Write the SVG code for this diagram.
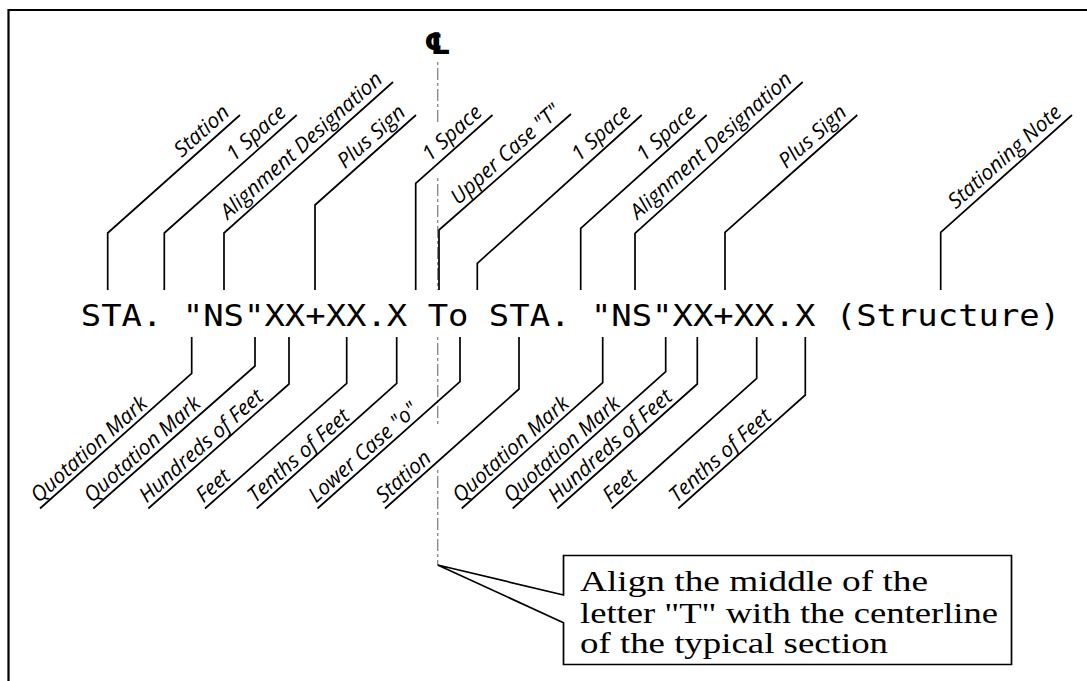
<svg xmlns="http://www.w3.org/2000/svg" width="1087" height="681" viewBox="0 0 1087 681">
  <style>
    .frame { fill: none; stroke: #000; stroke-width: 2.2; }
    .lead { fill: none; stroke: #000; stroke-width: 1.7; stroke-linejoin: miter; }
    .cl { fill: none; stroke: #8c8c8c; stroke-width: 1.4; stroke-dasharray: 3 3 12 3; }
    .main { font-family: "DejaVu Sans Mono", "Liberation Mono", monospace; font-size: 30px; fill: #000; }
    .lbl { font-family: "Open Sans", "Noto Sans", sans-serif; font-style: italic; font-size: 21px; fill: #000; }
    .note { font-family: "Liberation Serif", "DejaVu Serif", serif; font-size: 30px; fill: #000; }
    .clsym { font-family: "DejaVu Sans", sans-serif; font-weight: bold; font-size: 30px; fill: #000; }
  </style>

  <rect width="1087" height="681" fill="#fff"/>

  <!-- sheet border (left and top edges) -->
  <path class="frame" d="M8.5,681 V10 H1087"/>

  <!-- centerline of the typical section -->
  <g id="centerline">
    <text class="clsym" x="437.5" y="54" text-anchor="middle">℄</text>
    <path class="cl" d="M437.7,62 V122 M437.7,178 V290 M437.7,337 V425 M437.7,470 V565"/>
  </g>

  <!-- the stationing string -->
  <g id="station-string">
    <text class="main" transform="translate(80.8,326) scale(1.13,1)" xml:space="preserve">STA. "NS"XX+XX.X To STA. "NS"XX+XX.X (Structure)</text>
  </g>

  <!-- leader lines: vertical tick, then 41.7 degree run to the label -->
  <g id="connectors">
    <!-- upper leaders -->
    <path class="lead" d="M107.7,290 V233 L240,115"/>
    <path class="lead" d="M164.3,290 V233 L296.7,115"/>
    <path class="lead" d="M224,290 V233 L393,82"/>
    <path class="lead" d="M315,290 V205 L416,115"/>
    <path class="lead" d="M415.7,290 V183.3 L492.5,115"/>
    <path class="lead" d="M439,290 V230 L571,114"/>
    <path class="lead" d="M477.3,290 V263.3 L641.7,115"/>
    <path class="lead" d="M580.7,290 V228.3 L706.7,115"/>
    <path class="lead" d="M635,290 V233.3 L802.7,82"/>
    <path class="lead" d="M725,290 V232.3 L857.3,115"/>
    <path class="lead" d="M940.7,290 V232.3 L1072,115"/>
    <!-- lower leaders -->
    <path class="lead" d="M191.7,337 V373.3 L40,508.5"/>
    <path class="lead" d="M255,337 V366 L93.3,508.5"/>
    <path class="lead" d="M289,337 V384 L148.3,508.5"/>
    <path class="lead" d="M346.7,337 V383.3 L205,508.5"/>
    <path class="lead" d="M396.7,337 V383.3 L256.7,508.5"/>
    <path class="lead" d="M460,337 V381.7 L317.5,508.5"/>
    <path class="lead" d="M519,337 V389 L385,508.5"/>
    <path class="lead" d="M602.7,337 V382.7 L461.7,508.5"/>
    <path class="lead" d="M665.7,337 V371.7 L512.7,508.5"/>
    <path class="lead" d="M697.3,337 V384 L557.3,508.5"/>
    <path class="lead" d="M756.7,337 V378.3 L611.7,508.5"/>
    <path class="lead" d="M805.3,337 V395 L678.3,508.5"/>
  </g>

  <!-- upper labels (anchored at the upper end of each run) -->
  <g id="lbl-station-1"><text class="lbl" text-anchor="end" transform="translate(230.7,114.3) rotate(-41.7)">Station</text></g>
  <g id="lbl-space-1"><text class="lbl" text-anchor="end" transform="translate(287.4,114.3) rotate(-41.7)">1 Space</text></g>
  <g id="lbl-align-1"><text class="lbl" text-anchor="end" transform="translate(383.7,81.3) rotate(-41.7)">Alignment Designation</text></g>
  <g id="lbl-plus-1"><text class="lbl" text-anchor="end" transform="translate(406.7,114.3) rotate(-41.7)">Plus Sign</text></g>
  <g id="lbl-space-2"><text class="lbl" text-anchor="end" transform="translate(483.2,114.3) rotate(-41.7)">1 Space</text></g>
  <g id="lbl-upper-t"><text class="lbl" text-anchor="end" transform="translate(561.7,113.3) rotate(-41.7)">Upper Case "T"</text></g>
  <g id="lbl-space-3"><text class="lbl" text-anchor="end" transform="translate(632.4,114.3) rotate(-41.7)">1 Space</text></g>
  <g id="lbl-space-4"><text class="lbl" text-anchor="end" transform="translate(697.4,114.3) rotate(-41.7)">1 Space</text></g>
  <g id="lbl-align-2"><text class="lbl" text-anchor="end" transform="translate(793.4,81.3) rotate(-41.7)">Alignment Designation</text></g>
  <g id="lbl-plus-2"><text class="lbl" text-anchor="end" transform="translate(848,114.3) rotate(-41.7)">Plus Sign</text></g>
  <g id="lbl-note"><text class="lbl" text-anchor="end" transform="translate(1062.7,114.3) rotate(-41.7)">Stationing Note</text></g>

  <!-- lower labels (anchored at the lower end of each run) -->
  <g id="lbl-quote-1"><text class="lbl" transform="translate(38.5,503.5) rotate(-41.7)">Quotation Mark</text></g>
  <g id="lbl-quote-2"><text class="lbl" transform="translate(91.8,503.5) rotate(-41.7)">Quotation Mark</text></g>
  <g id="lbl-hundreds-1"><text class="lbl" transform="translate(146.8,503.5) rotate(-41.7)">Hundreds of Feet</text></g>
  <g id="lbl-feet-1"><text class="lbl" transform="translate(203.5,503.5) rotate(-41.7)">Feet</text></g>
  <g id="lbl-tenths-1"><text class="lbl" transform="translate(255.2,503.5) rotate(-41.7)">Tenths of Feet</text></g>
  <g id="lbl-lower-o"><text class="lbl" transform="translate(316,503.5) rotate(-41.7)">Lower Case "o"</text></g>
  <g id="lbl-station-2"><text class="lbl" transform="translate(383.5,503.5) rotate(-41.7)">Station</text></g>
  <g id="lbl-quote-3"><text class="lbl" transform="translate(460.2,503.5) rotate(-41.7)">Quotation Mark</text></g>
  <g id="lbl-quote-4"><text class="lbl" transform="translate(511.2,503.5) rotate(-41.7)">Quotation Mark</text></g>
  <g id="lbl-hundreds-2"><text class="lbl" transform="translate(555.8,503.5) rotate(-41.7)">Hundreds of Feet</text></g>
  <g id="lbl-feet-2"><text class="lbl" transform="translate(610.2,503.5) rotate(-41.7)">Feet</text></g>
  <g id="lbl-tenths-2"><text class="lbl" transform="translate(676.8,503.5) rotate(-41.7)">Tenths of Feet</text></g>

  <!-- callout note pointing at the centerline -->
  <g id="note">
    <path class="lead" stroke-width="1.5" d="M563.5,595 V555.5 H1011.5 V664.5 H563.5 V622.7 L437.7,565 Z"/>
    <text class="note" x="580" y="591" textLength="348" lengthAdjust="spacingAndGlyphs">Align the middle of the</text>
    <text class="note" x="580" y="622.5" textLength="418" lengthAdjust="spacingAndGlyphs">letter "T" with the centerline</text>
    <text class="note" x="580" y="653" textLength="308" lengthAdjust="spacingAndGlyphs">of the typical section</text>
  </g>
</svg>
